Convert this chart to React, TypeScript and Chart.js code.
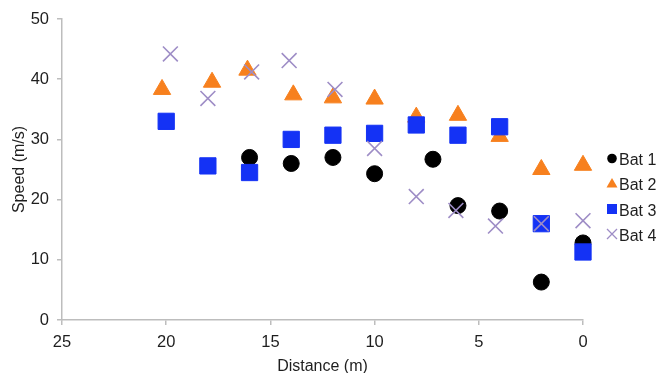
import React, { useEffect, useRef } from "react";
import { Chart, registerables } from "chart.js";

Chart.register(...registerables);

const seriesNames = ["Bat 1", "Bat 2", "Bat 3", "Bat 4"];
const bat1X = [16, 14, 12, 10, 7.2, 6, 4, 2, 0];
const bat1Y = [27, 26, 27, 24.3, 26.7, 19, 18.1, 6.3, 12.8];
const bat2X = [20.2, 17.8, 16.1, 13.9, 12, 10, 8, 6, 4, 2, 0];
const bat2Y = [38.3, 39.5, 41.5, 37.4, 36.9, 36.7, 33.7, 34.0, 30.5, 25.0, 25.7];
const bat3X = [20, 18, 16, 14, 12, 10, 8, 6, 4, 2, 0];
const bat3Y = [33, 25.6, 24.5, 30, 30.7, 31, 32.4, 30.7, 32.1, 16, 11.3];
const bat4X = [19.8, 18, 15.9, 14.1, 11.9, 10, 8, 6.1, 4.2, 2, 0];
const bat4Y = [44.2, 36.8, 41.2, 43.1, 38.3, 28.5, 20.5, 18.2, 15.6, 16, 16.5];

const xTitle = "Distance (m)";
const yTitle = "Speed (m/s)";

const colors = ["#000000", "#F7801E", "#1432F5", "#9E8DC6"];
const FONT = "'Liberation Sans', Arial, Helvetica, sans-serif";
const TEXT = "#1e1e1e";
const AXIS = "#bdbdbd";

const pts = (xs: number[], ys: number[]) => xs.map((x, i) => ({ x, y: ys[i] }));

const legendPlugin = {
  id: "customLegend",
  afterDraw(chart: any) {
    const ctx = chart.ctx;
    ctx.save();
    const mx = 612;
    const tx = 619;
    const ys = [160.5, 186, 211.5, 236.5];
    ctx.font = `16px ${FONT}`;
    ctx.textBaseline = "middle";
    ctx.textAlign = "left";
    seriesNames.forEach((name, i) => {
      const y = ys[i];
      const c = colors[i];
      ctx.fillStyle = c;
      ctx.strokeStyle = c;
      ctx.beginPath();
      if (i === 0) {
        ctx.arc(mx, y - 2, 4.8, 0, Math.PI * 2);
        ctx.fill();
      } else if (i === 1) {
        ctx.moveTo(mx, y - 8);
        ctx.lineTo(mx + 5.5, y + 1.5);
        ctx.lineTo(mx - 5.5, y + 1.5);
        ctx.closePath();
        ctx.fill();
      } else if (i === 2) {
        ctx.rect(mx - 5, y - 7.5, 10, 10);
        ctx.fill();
      } else {
        ctx.lineWidth = 1.3;
        ctx.moveTo(mx - 5, y - 7.5);
        ctx.lineTo(mx + 5, y + 2.5);
        ctx.moveTo(mx + 5, y - 7.5);
        ctx.lineTo(mx - 5, y + 2.5);
        ctx.stroke();
      }
      ctx.fillStyle = TEXT;
      ctx.fillText(name, tx, y);
    });
    ctx.restore();
  },
};

export default function App() {
  const ref = useRef<HTMLCanvasElement | null>(null);
  useEffect(() => {
    if (!ref.current) return;
    const chart = new Chart(ref.current, {
      type: "scatter",
      data: {
        datasets: [
          {
            label: seriesNames[0],
            data: pts(bat1X, bat1Y),
            pointStyle: "circle",
            pointRadius: 8,
            borderWidth: 1,
            backgroundColor: colors[0],
            borderColor: colors[0],
            order: 4,
            clip: false,
          },
          {
            label: seriesNames[1],
            data: pts(bat2X, bat2Y),
            pointStyle: "triangle",
            pointRadius: 10,
            borderWidth: 1,
            backgroundColor: colors[1],
            borderColor: colors[1],
            order: 3,
            clip: false,
          },
          {
            label: seriesNames[2],
            data: pts(bat3X, bat3Y),
            pointStyle: "rect",
            pointRadius: 11.5,
            borderWidth: 1,
            backgroundColor: colors[2],
            borderColor: colors[2],
            order: 2,
            clip: false,
          },
          {
            label: seriesNames[3],
            data: pts(bat4X, bat4Y),
            pointStyle: "crossRot",
            pointRadius: 10.5,
            borderWidth: 1.6,
            backgroundColor: colors[3],
            borderColor: colors[3],
            order: 1,
            clip: false,
          },
        ],
      },
      options: {
        animation: false,
        responsive: true,
        maintainAspectRatio: false,
        layout: { padding: { top: 19, right: 77, left: 0, bottom: 0 } },
        plugins: {
          legend: { display: false },
          tooltip: { enabled: false },
        },
        scales: {
          x: {
            type: "linear",
            reverse: true,
            min: 0,
            max: 25,
            ticks: {
              stepSize: 5,
              color: TEXT,
              font: { family: FONT, size: 16.5 },
              padding: 8,
              maxRotation: 0,
            },
            grid: {
              display: true,
              drawOnChartArea: false,
              drawTicks: true,
              tickLength: 5,
              color: AXIS,
              lineWidth: 1.5,
            },
            border: { display: true, color: AXIS, width: 1.5 },
            title: {
              display: true,
              text: xTitle,
              color: TEXT,
              font: { family: FONT, size: 16 },
              padding: { top: 0, bottom: -3 },
            },
            afterFit: (scale: any) => {
              scale.height = 53;
            },
          },
          y: {
            type: "linear",
            min: 0,
            max: 50,
            ticks: {
              stepSize: 10,
              color: TEXT,
              font: { family: FONT, size: 16.5 },
              padding: 8,
            },
            grid: {
              display: true,
              drawOnChartArea: false,
              drawTicks: true,
              tickLength: 5,
              color: AXIS,
              lineWidth: 1.5,
            },
            border: { display: true, color: AXIS, width: 1.5 },
            title: {
              display: true,
              text: yTitle,
              color: TEXT,
              font: { family: FONT, size: 16 },
              padding: { top: 10, bottom: 0 },
            },
            afterFit: (scale: any) => {
              scale.width = 62;
            },
          },
        },
      },
      plugins: [legendPlugin],
    });
    return () => chart.destroy();
  }, []);

  return (
    <div
      style={{
        position: "fixed",
        left: 0,
        top: 0,
        width: 660,
        height: 373,
        background: "#ffffff",
      }}
    >
      <canvas ref={ref} />
    </div>
  );
}
